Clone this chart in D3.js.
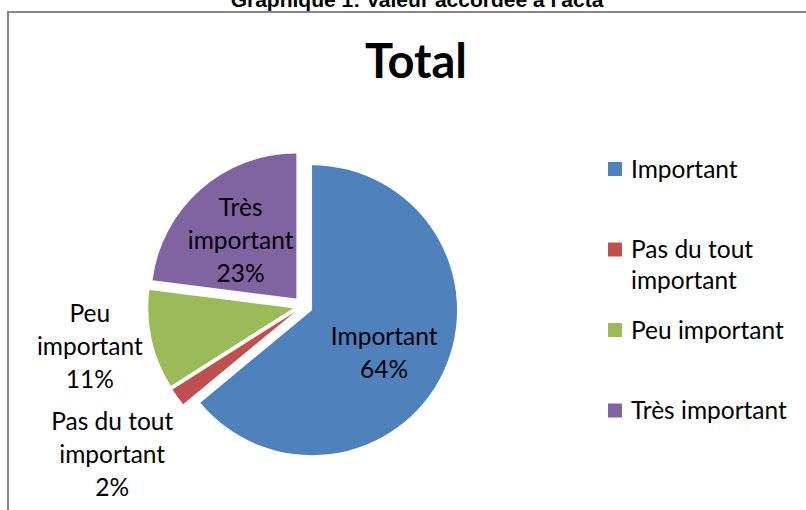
<!DOCTYPE html>
<html>
<head>
<meta charset="utf-8">
<script src="https://cdn.jsdelivr.net/npm/d3@7"></script>
<style>
  body { margin: 0; background: #fff; }
  svg { display: block; }
</style>
</head>
<body>
<div id="chart"></div>
<script>
var svgWidth = 806;
var svgHeight = 510;

// data
var categories = ["Important", "Pas du tout important", "Peu important", "Très important"];
var values = [64, 2, 11, 23];
var labelLines = [["Important", "64%"], ["Pas du tout", "important", "2%"], ["Peu", "important", "11%"], ["Très", "important", "23%"]];
var legendLines = [["Important"], ["Pas du tout", "important"], ["Peu important"], ["Très important"]];
var colors = ["#4F81BD", "#C0504D", "#9BBB59", "#8064A2"];

// label distance from slice vertex (fraction of radius) + small nudge
var labelRadius = [0.58, 1.6, 1.43, 0.55];
var labelNudge = [[-4, 7], [5, 6], [-1, -7], [-3, 2]];

var font = "Lato, 'Open Sans', sans-serif";

var svg = d3.select("#chart")
  .append("svg")
  .attr("width", svgWidth)
  .attr("height", svgHeight);

svg.append("rect")
  .attr("width", svgWidth)
  .attr("height", svgHeight)
  .attr("fill", "#fff");

// document heading, cut off at the top like in the source
svg.append("text")
  .attr("x", 417)
  .attr("y", 7)
  .attr("text-anchor", "middle")
  .style("font-family", "'Liberation Sans', Arial, sans-serif")
  .style("font-weight", "bold")
  .style("font-size", "21px")
  .text("Graphique 1: Valeur accordée à l'acta");

// chart frame
svg.append("rect")
  .attr("x", 8)
  .attr("y", 12)
  .attr("width", svgWidth + 20)
  .attr("height", svgHeight + 20)
  .attr("fill", "none")
  .attr("stroke", "#868686")
  .attr("stroke-width", 2);

svg.append("text")
  .attr("x", 416)
  .attr("y", 78)
  .attr("text-anchor", "middle")
  .style("font-family", font)
  .style("font-weight", "bold")
  .style("font-size", "47px")
  .text("Total");

var cx = 303, cy = 306, radius = 145, explode = 10;

var pie = d3.pie().sort(null).value(d => d);
var arcs = pie(values);
var arc = d3.arc().innerRadius(0).outerRadius(radius);

var pieGroup = svg.append("g")
  .attr("transform", `translate(${cx}, ${cy})`);

function midVec(d, r) {
  var a = (d.startAngle + d.endAngle) / 2;
  return [Math.sin(a) * r, -Math.cos(a) * r];
}

var slices = pieGroup.selectAll("g.slice")
  .data(arcs)
  .enter()
  .append("g")
  .attr("class", "slice")
  .attr("transform", function(d) {
    var v = midVec(d, explode);
    return `translate(${v[0]}, ${v[1]})`;
  });

slices.append("path")
  .attr("d", arc)
  .attr("fill", (d, i) => colors[i]);

var lineH = 33;
slices.append("text")
  .attr("text-anchor", "middle")
  .style("font-family", font)
  .style("font-size", "24.5px")
  .attr("fill", "#000")
  .each(function(d, i) {
    var v = midVec(d, radius * labelRadius[i]);
    var x = v[0] + labelNudge[i][0];
    var lines = labelLines[i];
    var y0 = v[1] + labelNudge[i][1] - (lines.length - 1) * lineH / 2;
    d3.select(this).selectAll("tspan")
      .data(lines)
      .enter()
      .append("tspan")
      .attr("x", x)
      .attr("y", (t, j) => y0 + j * lineH)
      .attr("dy", "0.35em")
      .text(t => t);
  });

// legend
var legend = svg.append("g")
  .attr("transform", "translate(608, 169)");

var item = legend.selectAll("g")
  .data(categories)
  .enter()
  .append("g")
  .attr("transform", (d, i) => `translate(0, ${i * 80.5})`);

item.append("rect")
  .attr("x", 0)
  .attr("y", -7)
  .attr("width", 14)
  .attr("height", 14)
  .attr("fill", (d, i) => colors[i]);

item.append("text")
  .style("font-family", font)
  .style("font-size", "24.5px")
  .each(function(d, i) {
    d3.select(this).selectAll("tspan")
      .data(legendLines[i])
      .enter()
      .append("tspan")
      .attr("x", 23)
      .attr("y", (t, j) => j * 31)
      .attr("dy", "0.35em")
      .text(t => t);
  });
</script>
</body>
</html>
